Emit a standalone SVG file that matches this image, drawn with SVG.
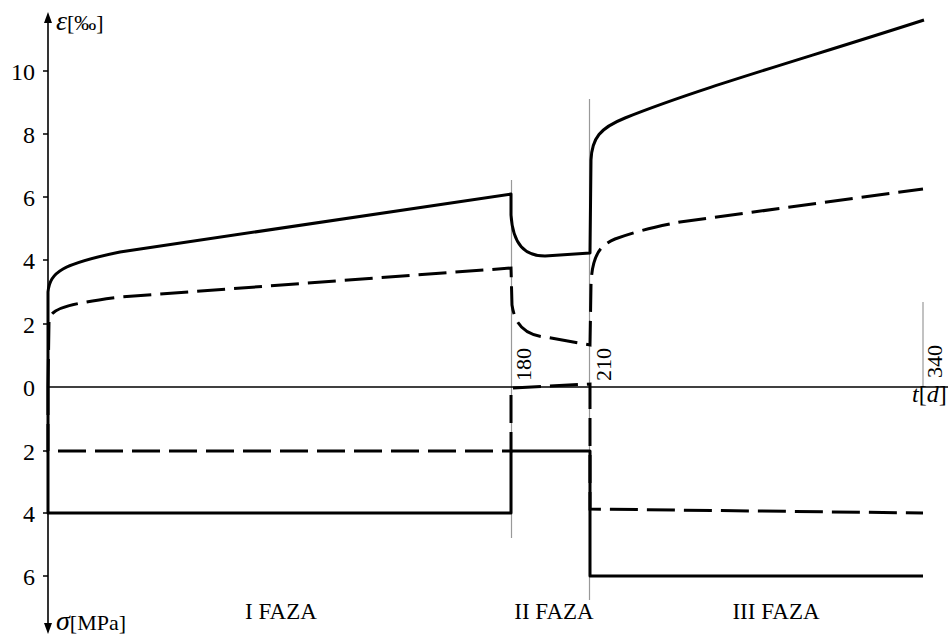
<svg xmlns="http://www.w3.org/2000/svg" width="948" height="638" viewBox="0 0 948 638">
<style>
text{font-family:"Liberation Serif","Times New Roman",serif;fill:#000}
.tick{font-size:24px;text-anchor:end}
.lbl{font-size:22px}
.faza{font-size:23px;text-anchor:middle}
.solid{fill:none;stroke:#000;stroke-width:3;stroke-linejoin:round}
.dash{fill:none;stroke:#000;stroke-width:3;stroke-dasharray:28 9}
.grid{stroke:#999;stroke-width:1.2}
.ax{stroke:#000;stroke-width:1.6}
</style>
<rect width="948" height="638" fill="#fff"/>
<g id="gridlines">
<line class="grid" x1="511.5" y1="180" x2="511.5" y2="538"/>
<line class="grid" x1="589.5" y1="99" x2="589.5" y2="600"/>
<line class="grid" x1="923" y1="302" x2="923" y2="387"/>
</g>
<g id="axes">
<line class="ax" x1="48" y1="20" x2="48" y2="626"/>
<polygon points="48,12 44,23 52,23" fill="#000"/>
<polygon points="48,634 44,623 52,623" fill="#000"/>
<line stroke="#000" stroke-width="1.3" x1="48" y1="387" x2="948" y2="387"/>
<g stroke="#000" stroke-width="1.5">
<line x1="43" y1="71" x2="48" y2="71"/>
<line x1="43" y1="134" x2="48" y2="134"/>
<line x1="43" y1="197" x2="48" y2="197"/>
<line x1="43" y1="260" x2="48" y2="260"/>
<line x1="43" y1="324" x2="48" y2="324"/>
<line x1="43" y1="451" x2="48" y2="451"/>
<line x1="43" y1="513" x2="48" y2="513"/>
<line x1="43" y1="576" x2="48" y2="576"/>
</g>
<text class="tick" x="35" y="80">10</text>
<text class="tick" x="35" y="143">8</text>
<text class="tick" x="35" y="206">6</text>
<text class="tick" x="35" y="269">4</text>
<text class="tick" x="35" y="333">2</text>
<text class="tick" x="35" y="396">0</text>
<text class="tick" x="35" y="460">2</text>
<text class="tick" x="35" y="522">4</text>
<text class="tick" x="35" y="585">6</text>
<text x="56" y="30"><tspan font-size="28" font-style="italic">ε</tspan><tspan font-size="22">[‰]</tspan></text>
<text x="56" y="630"><tspan font-size="28" font-style="italic">σ</tspan><tspan font-size="22">[MPa]</tspan></text>
<text x="912" y="402" font-size="24"><tspan font-style="italic">t</tspan>[<tspan font-style="italic">d</tspan>]</text>
<text class="lbl" transform="translate(531,381) rotate(-90)">180</text>
<text class="lbl" transform="translate(611,381) rotate(-90)">210</text>
<text class="lbl" transform="translate(942,378) rotate(-90)">340</text>
</g>
<g id="curves">
<path class="solid" d="M48,387 L48,292 C50,272 62,264 120,252 L511,194 L511,215 C513,245 525,256 545,256 L590,253 L591,160 C592,138 600,128 625,118 C700,88 800,60 924,20"/>
<path class="dash" d="M48,387 L49,322 C50,310 58,305 120,297 L511,268 L512,305 C515,325 525,335 545,337 L590,345 L591,285 C592,258 598,246 615,239 C640,230 660,226 680,222 L923,189"/>
<path class="solid" d="M48,387 L48,513 L511,513 L511,451 L590,451 L590,576 L923,576"/>
<path class="dash" d="M48,387 L48,451 L511,451 L511,388 L590,384 L590,509 L923,513"/>
</g>
<g id="phases">
<text class="faza" x="281" y="619">I FAZA</text>
<text class="faza" x="554" y="619">II FAZA</text>
<text class="faza" x="776" y="619">III FAZA</text>
</g>
</svg>
